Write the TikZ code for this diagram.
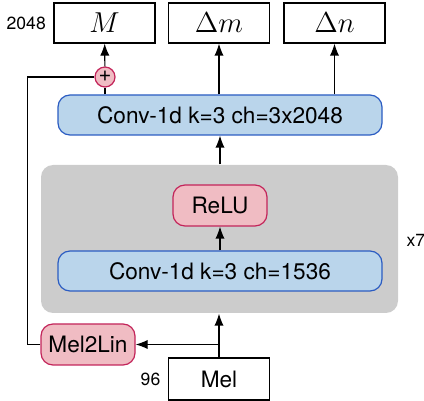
\documentclass[tikz,border=0pt]{standalone}
\usepackage{fontspec}
\setmainfont{TeX Gyre Heros}
\usetikzlibrary{arrows.meta}
\usetikzlibrary{positioning}
\definecolor{convfill}{HTML}{BAD5EB}
\definecolor{convline}{HTML}{2B5CC2}
\definecolor{actfill}{HTML}{F0BCC3}
\definecolor{actline}{HTML}{C3245A}
\definecolor{stackfill}{HTML}{CCCCCC}
\begin{document}
\begin{tikzpicture}[x=0.5pt,y=-0.5pt,line width=0.6pt,>={Latex[length=6pt,width=4.6pt]}]
						\tikzstyle{outbox} = [rectangle, draw, minimum width=50.5pt, minimum height=20pt, inner sep=0pt, font=\fontsize{14.4}{16}\selectfont]
						\tikzstyle{convbox} = [rectangle, rounded corners=6pt, draw=convline, fill=convfill, minimum width=162pt, minimum height=20pt, inner sep=0pt, font=\fontsize{11.3}{13}\selectfont]
						\tikzstyle{actbox} = [rectangle, rounded corners=6pt, draw=actline, fill=actfill, minimum width=47pt, minimum height=20.5pt, inner sep=0pt, font=\fontsize{11.3}{13}\selectfont]
						\tikzstyle{dimlabel} = [inner sep=0pt, font=\fontsize{8.8}{10}\selectfont]
						\useasboundingbox (0,0) rectangle (424,401);
						\node [outbox](M) at (104.5,23) {$M$};
						\node [outbox](dm) at (219,23) {$\Delta m$};
						\node [outbox](dn) at (334.5,23) {$\Delta n$};
						\node [dimlabel,left=3.5pt of M](mdim) {2048};
						\node [circle, draw=actline, fill=actfill, minimum size=10pt, inner sep=0pt](plus) at (105,77) {};
						\node [inner sep=0pt, font=\fontsize{11}{11}\selectfont](plussign) at ([yshift=0.3pt]plus) {+};
						\node [convbox](convtop) at (220,115) {Conv-1d k=3 ch=3x2048};
						\node [rectangle, rounded corners=6pt, fill=stackfill, minimum width=178.5pt, minimum height=74pt](stack) at (219.5,239) {};
						\node [actbox](relu) at (220,205.5) {ReLU};
						\node [convbox](convlow) at (220,271) {Conv-1d k=3 ch=1536};
						\node [dimlabel,anchor=west](reps) at (406,240) {x7};
						\node [actbox](mellin) at (88,344.5) {Mel2Lin};
						\node [outbox, minimum height=21pt, font=\fontsize{11.3}{13}\selectfont](mel) at (219,379) {Mel};
						\node [dimlabel,left=3.5pt of mel](meldim) {96};
						\coordinate (split) at (mel.north |- mellin);
						\draw (convtop.north -| plus) -- (plus);
						\draw [->] (plus) -- (M);
						\draw [->] (convtop.north -| dm) -- (dm);
						\draw [->] (convtop.north -| dn) -- (dn);
						\draw [->] (stack.north -| convtop) -- (convtop);
						\draw [->] (convlow) -- (relu);
						\draw [->] (mel) -- (stack.south -| mel);
						\draw [->] (split) -- (mellin);
						\draw (mellin.west) -- ++(-13,0) |- (plus.west);
					\end{tikzpicture}
\end{document}
